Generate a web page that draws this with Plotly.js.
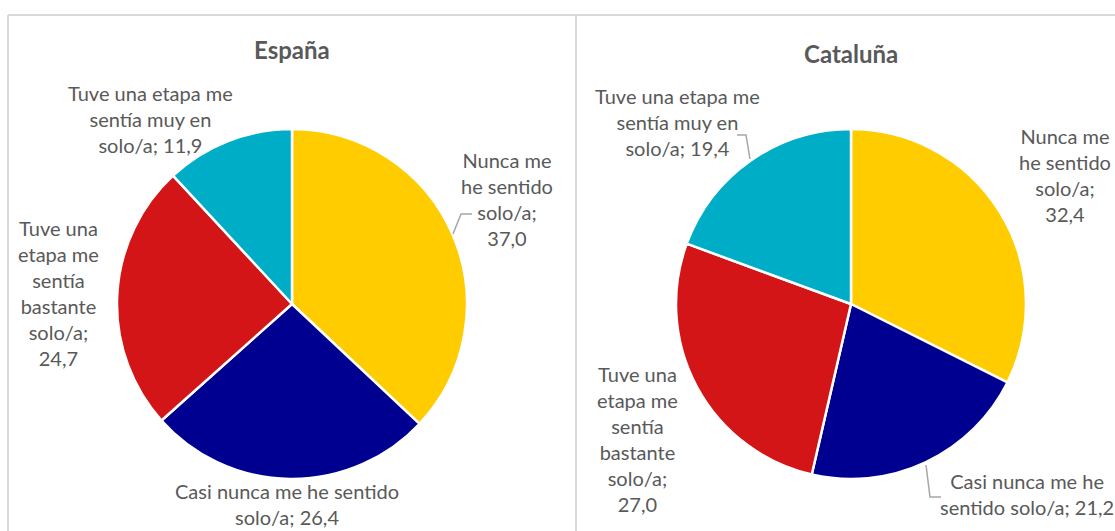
<!DOCTYPE html>
<html>
<head>
<meta charset="utf-8">
<script src="https://cdn.plot.ly/plotly-3.0.1.min.js"></script>
<style>html,body{margin:0;padding:0;background:#fff;}#chart{width:1115px;height:531px;}</style>
</head>
<body>
<div id="chart"></div>
<script>
// ---- data ----
const categories = [
  "Nunca me he sentido solo/a",
  "Casi nunca me he sentido solo/a",
  "Tuve una etapa me sentía bastante solo/a",
  "Tuve una etapa me sentía muy en solo/a"
];
const espanaValues = [37.0, 26.4, 24.7, 11.9];
const catalunaValues = [32.4, 21.2, 27.0, 19.4];
const panelTitles = ["España", "Cataluña"];
// wrapped label templates ({v} = value)
const espanaLabelTemplates = [
  "Nunca me<br>he sentido<br>solo/a;<br>{v}",
  "Casi nunca me he sentido<br>solo/a; {v}",
  "Tuve una<br>etapa me<br>sentía<br>bastante<br>solo/a;<br>{v}",
  "Tuve una etapa me<br>sentía muy en<br>solo/a; {v}"
];
const catalunaLabelTemplates = [
  "Nunca me<br>he sentido<br>solo/a;<br>{v}",
  "Casi nunca me he<br>sentido solo/a; {v}",
  "Tuve una<br>etapa me<br>sentía<br>bastante<br>solo/a;<br>{v}",
  "Tuve una etapa me<br>sentía muy en<br>solo/a; {v}"
];
const sliceColors = ["#FFCC00", "#000090", "#D31518", "#00ADC6"];

// ---- layout helpers ----
const W = 1115, H = 531;
const px = x => x / W;
const py = y => 1 - y / H;
const fmt = v => v.toFixed(1).replace(".", ",");
const textColor = "#595959";

function pieDomain(cx, cy, r) {
  return { x: [px(cx - r), px(cx + r)], y: [py(cy + r), py(cy - r)] };
}

const traces = [
  {
    type: "pie", labels: categories, values: espanaValues, sort: false,
    direction: "clockwise", rotation: 0, textinfo: "none", hoverinfo: "label+value",
    marker: { colors: sliceColors, line: { color: "#ffffff", width: 2.5 } },
    domain: pieDomain(292, 304, 175), showlegend: false
  },
  {
    type: "pie", labels: categories, values: catalunaValues, sort: false,
    direction: "clockwise", rotation: 0, textinfo: "none", hoverinfo: "label+value",
    marker: { colors: sliceColors, line: { color: "#ffffff", width: 2.5 } },
    domain: pieDomain(851, 304, 175), showlegend: false
  }
];

const espanaLabelPos = [[507, 199], [287, 503.5], [58, 293], [150, 118.5]];
const catalunaLabelPos = [[1065, 175], [1027, 493.5], [637, 439], [677, 121.5]];

const annotations = [];
[[espanaLabelTemplates, espanaValues, espanaLabelPos], [catalunaLabelTemplates, catalunaValues, catalunaLabelPos]]
  .forEach(([tpls, vals, pos]) => {
    tpls.forEach((t, i) => {
      annotations.push({
        xref: "paper", yref: "paper", x: px(pos[i][0]), y: py(pos[i][1]),
        xanchor: "center", yanchor: "middle", showarrow: false, align: "center",
        text: t.replace("{v}", fmt(vals[i])),
        font: { family: "Lato, 'Open Sans', sans-serif", size: 20, color: textColor }
      });
    });
  });
const titlePos = [[292, 50], [851, 54]];
panelTitles.forEach((t, i) => {
  annotations.push({
    xref: "paper", yref: "paper", x: px(titlePos[i][0]), y: py(titlePos[i][1]),
    xanchor: "center", yanchor: "middle", showarrow: false,
    text: "<b>" + t + "</b>",
    font: { family: "Lato, 'Open Sans', sans-serif", size: 24, color: textColor }
  });
});

function pathPx(points) {
  return points.map((p, i) => (i ? "L" : "M") + px(p[0]) + "," + py(p[1])).join(" ");
}
const leaderStyle = { color: "#A6A6A6", width: 1.5 };
const shapes = [
  // panel borders
  { type: "line", xref: "paper", yref: "paper", x0: px(8), x1: px(8), y0: py(15), y1: 0, line: { color: "#D9D9D9", width: 2 } },
  { type: "line", xref: "paper", yref: "paper", x0: px(8), x1: 1, y0: py(15), y1: py(15), line: { color: "#D9D9D9", width: 2 } },
  { type: "line", xref: "paper", yref: "paper", x0: px(576), x1: px(576), y0: py(15), y1: 0, line: { color: "#D9D9D9", width: 2 } },
  // leader lines
  { type: "path", xref: "paper", yref: "paper", path: pathPx([[453, 234], [461, 214], [472, 214]]), line: leaderStyle },
  { type: "path", xref: "paper", yref: "paper", path: pathPx([[926, 465], [930, 497], [941, 497]]), line: leaderStyle },
  { type: "path", xref: "paper", yref: "paper", path: pathPx([[737, 135], [746, 135], [750, 159]]), line: leaderStyle }
];

const layout = {
  width: W, height: H,
  margin: { l: 0, r: 0, t: 0, b: 0 },
  paper_bgcolor: "#ffffff",
  showlegend: false,
  annotations: annotations,
  shapes: shapes
};

Plotly.newPlot("chart", traces, layout, { displayModeBar: false, staticPlot: true });
</script>
</body>
</html>
